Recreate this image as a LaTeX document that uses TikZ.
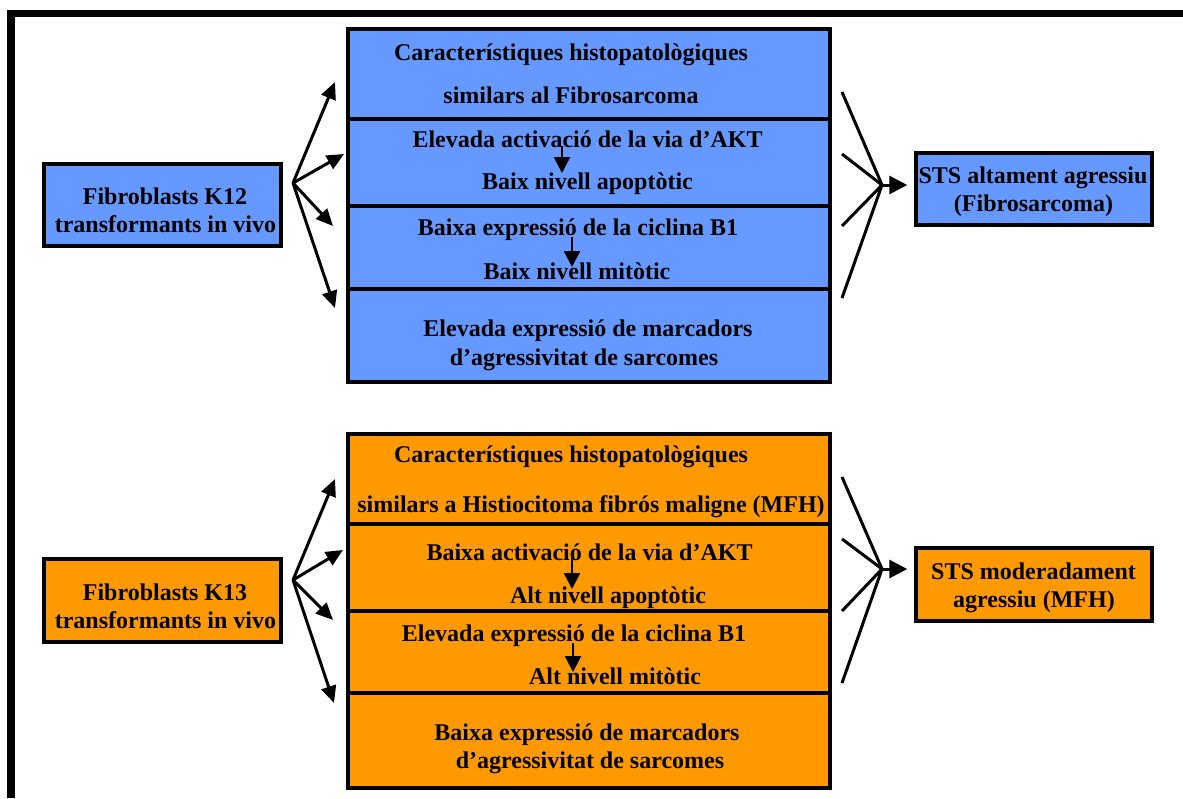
\documentclass[tikz,border=0pt]{standalone}
\usepackage{fontspec}
\setmainfont{Liberation Serif}
\usetikzlibrary{arrows.meta}
\definecolor{cellblue}{RGB}{102,153,255}
\definecolor{cellorange}{RGB}{255,153,0}

\begin{document}
\begin{tikzpicture}[x=1pt,y=-1pt,
  box/.style={draw=black, line width=3.5pt, inner sep=0pt, anchor=center},
  txt/.style={anchor=base, inner sep=0pt, font=\fontsize{24}{28}\selectfont\bfseries},
  fan/.style={line width=3pt, -{Triangle[length=17pt,width=15pt]}},
  merge/.style={line width=3pt, -{Triangle[length=18pt,width=18pt]}},
  feed/.style={line width=3pt},
  cause/.style={line width=2.5pt, -{Triangle[length=16pt,width=16pt]}}
]
\useasboundingbox (0,0) rectangle (1183,798);
\fill[white] (0,0) rectangle (1183,798);
% outer frame
\draw[line width=7.5pt] (11,798) -- (11,13.5) -- (1183,13.5);

% ---------------- K12 row ----------------
\node[box, fill=cellblue, minimum width=237pt, minimum height=82pt] (k12) at (162.5,205) {};
\node[txt] (k12a) at (165,204) {Fibroblasts K12};
\node[txt] (k12b) at (165.5,232) {transformants in vivo};

\node[box, fill=cellblue, minimum width=482pt, minimum height=90pt] (b1) at (589,74) {};
\node[box, fill=cellblue, minimum width=482pt, minimum height=87pt] (b2) at (589,162.5) {};
\node[box, fill=cellblue, minimum width=482pt, minimum height=83pt] (b3) at (589,247.5) {};
\node[box, fill=cellblue, minimum width=482pt, minimum height=93pt] (b4) at (589,335.5) {};

\node[txt] (b1a) at (571,60) {Característiques histopatològiques};
\node[txt] (b1b) at (571,103) {similars al Fibrosarcoma};
\node[txt] (b2a) at (587.5,147) {Elevada activació de la via d’AKT};
\node[txt] (b2b) at (587.5,189) {Baix nivell apoptòtic};
\node[txt] (b3a) at (578,235) {Baixa expressió de la ciclina B1};
\node[txt] (b3b) at (577,279) {Baix nivell mitòtic};
\node[txt] (b4a) at (588,336) {Elevada expressió de marcadors};
\node[txt] (b4b) at (584,365) {d’agressivitat de sarcomes};

\coordinate (b2s) at (562,146);
\coordinate (b2e) at (562,173);
\coordinate (b3s) at (572,237);
\coordinate (b3e) at (572,267);
\draw[cause] (b2s) -- (b2e);
\draw[cause] (b3s) -- (b3e);

\node[box, fill=cellblue, minimum width=236pt, minimum height=72pt] (sts1) at (1034,189) {};
\node[txt] (sts1a) at (1033,183) {STS altament agressiu};
\node[txt] (sts1b) at (1033.5,211) {(Fibrosarcoma)};

\coordinate (kfan) at (293,183);
\draw[fan] (kfan) -- ++(42,-101);
\draw[fan] (kfan) -- ++(51,-29);
\draw[fan] (kfan) -- ++(40,43);
\draw[fan] (kfan) -- ++(42,125);

\coordinate (kjoin) at (882,185);
\draw[feed] (kjoin) -- ++(-40,-93);
\draw[feed] (kjoin) -- ++(-40,-31);
\draw[feed] (kjoin) -- ++(-40,41);
\draw[feed] (kjoin) -- ++(-40,113);
\draw[merge, shorten >=7pt] (kjoin) -- (kjoin -| sts1.west);

% ---------------- K13 row ----------------
\node[box, fill=cellorange, minimum width=237pt, minimum height=83pt] (k13) at (162.5,600.5) {};
\node[txt] (k13a) at (165,600) {Fibroblasts K13};
\node[txt] (k13b) at (165.5,628) {transformants in vivo};

\node[box, fill=cellorange, minimum width=482pt, minimum height=90pt] (o1) at (589,479) {};
\node[box, fill=cellorange, minimum width=482pt, minimum height=87pt] (o2) at (589,567.5) {};
\node[box, fill=cellorange, minimum width=482pt, minimum height=82pt] (o3) at (589,652) {};
\node[box, fill=cellorange, minimum width=482pt, minimum height=95pt] (o4) at (589,740.5) {};

\node[txt] (o1a) at (571,462) {Característiques histopatològiques};
\node[txt] (o1b) at (591,512) {similars a Histiocitoma fibrós maligne (MFH)};
\node[txt] (o2a) at (589.5,560) {Baixa activació de la via d’AKT};
\node[txt] (o2b) at (608,603) {Alt nivell apoptòtic};
\node[txt] (o3a) at (574,641) {Elevada expressió de la ciclina B1};
\node[txt] (o3b) at (615,684) {Alt nivell mitòtic};
\node[txt] (o4a) at (587,740) {Baixa expressió de marcadors};
\node[txt] (o4b) at (590,768) {d’agressivitat de sarcomes};

\coordinate (o2s) at (572,558);
\coordinate (o2e) at (572,589);
\coordinate (o3s) at (573,643);
\coordinate (o3e) at (573,672);
\draw[cause] (o2s) -- (o2e);
\draw[cause] (o3s) -- (o3e);

\node[box, fill=cellorange, minimum width=236pt, minimum height=73pt] (sts2) at (1034,584.5) {};
\node[txt] (sts2a) at (1033.5,579) {STS moderadament};
\node[txt] (sts2b) at (1034,607) {agressiu (MFH)};

\coordinate (ofan) at (293,580);
\draw[fan] (ofan) -- ++(42,-101);
\draw[fan] (ofan) -- ++(50,-30);
\draw[fan] (ofan) -- ++(40,40);
\draw[fan] (ofan) -- ++(41,123);

\coordinate (ojoin) at (882,569);
\draw[feed] (ojoin) -- ++(-40,-92);
\draw[feed] (ojoin) -- ++(-40,-30);
\draw[feed] (ojoin) -- ++(-40,42);
\draw[feed] (ojoin) -- ++(-40,114);
\draw[merge, shorten >=7pt] (ojoin) -- (ojoin -| sts2.west);
\end{tikzpicture}
\end{document}
